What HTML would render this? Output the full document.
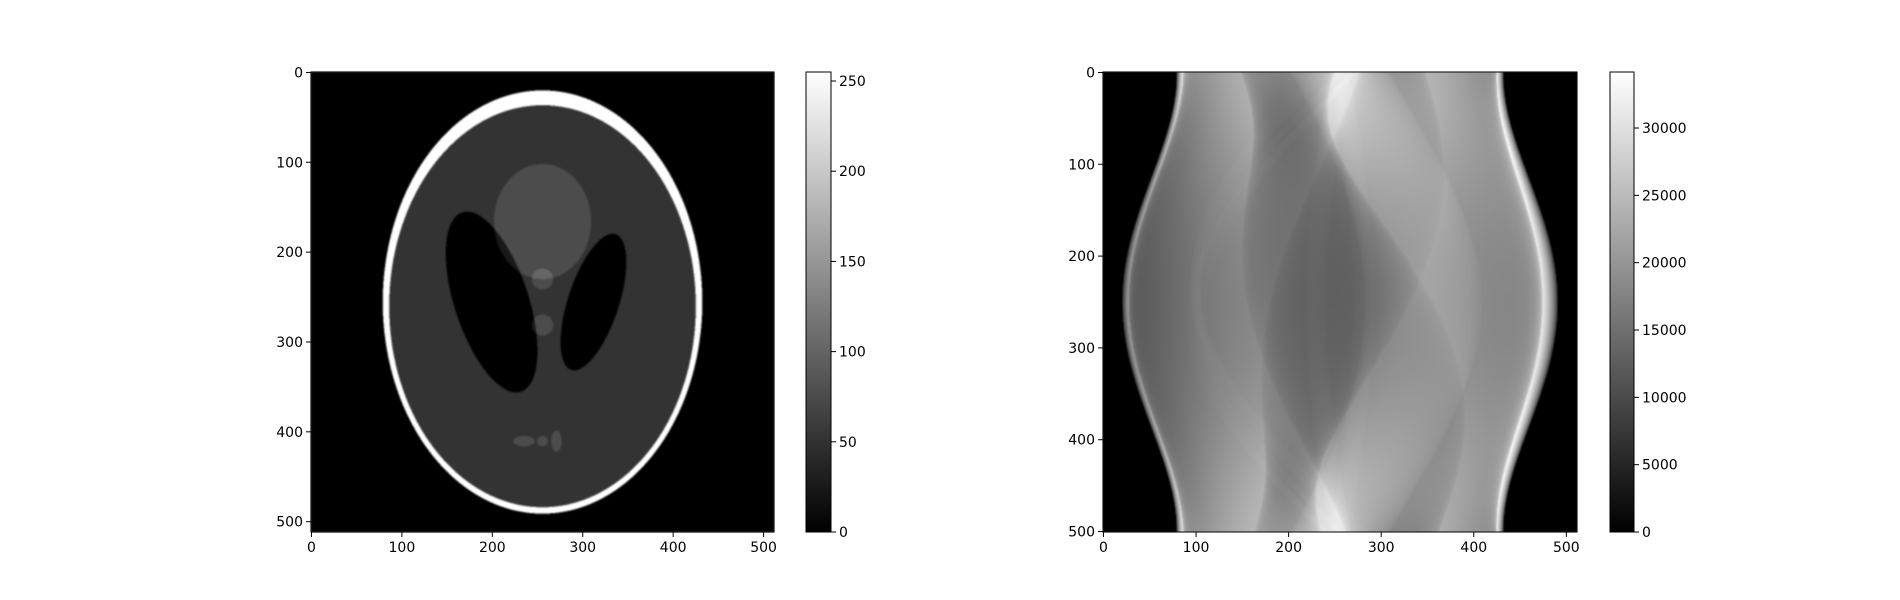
<!DOCTYPE html>
<html><head><meta charset="utf-8"><style>
body{margin:0;background:#fff;width:1900px;height:600px;overflow:hidden;position:relative;font-family:"DejaVu Sans","Liberation Sans",sans-serif}
canvas{position:absolute}
svg{position:absolute;left:0;top:0}
</style></head><body>
<canvas id="phantom" width="512" height="512" style="left:311px;top:72px;width:463px;height:460px"></canvas>
<canvas id="sino" width="512" height="501" style="left:1103px;top:72px;width:474px;height:460px"></canvas>
<svg id="ov" width="1900" height="600">
<defs><linearGradient id="gray" x1="0" y1="1" x2="0" y2="0"><stop offset="0" stop-color="#000"/><stop offset="1" stop-color="#fff"/></linearGradient></defs>
</svg>
<script>
// Shepp-Logan ellipse parameters
const E_x=[0,0,0.22,-0.22,0,0,0,-0.08,0,0.06];
const E_y=[0,-0.0184,0,0,0.35,0.1,-0.1,-0.605,-0.605,-0.605];
const E_a=[0.69,0.6624,0.11,0.16,0.21,0.046,0.046,0.046,0.023,0.023];
const E_b=[0.92,0.874,0.31,0.41,0.25,0.046,0.046,0.023,0.023,0.046];
const E_phi=[0,0,-18,18,0,0,0,0,0,0];
const E_rho=[1,-0.8,-0.2,-0.2,0.1,0.1,0.1,0.1,0.1,0.1];
const leftTicks=[0,100,200,300,400,500];
const sinoYTicks=[0,100,200,300,400,500];
const cbLeftTicks=[0,50,100,150,200,250];
const cbRightTicks=[0,5000,10000,15000,20000,25000,30000];
const sinoTargetMax=[34160];
const NS=512, NA=501;

function phantomVal(x,y){let v=0;for(let k=0;k<E_x.length;k++){const p=E_phi[k]*Math.PI/180,dx=x-E_x[k],dy=y-E_y[k];const u=dx*Math.cos(p)+dy*Math.sin(p),w=-dx*Math.sin(p)+dy*Math.cos(p);if((u/E_a[k])**2+(w/E_b[k])**2<=1)v+=E_rho[k];}return Math.max(0,Math.min(1,v));}
(function(){const c=document.getElementById('phantom'),ctx=c.getContext('2d'),img=ctx.createImageData(NS,NS);
for(let r=0;r<NS;r++)for(let q=0;q<NS;q++){let s=0;for(const oy of [0.25,0.75])for(const ox of [0.25,0.75]){s+=phantomVal((q+ox-256)/256,(256-(r+oy))/256);}
const g=Math.round(s/4*255),i=(r*NS+q)*4;img.data[i]=img.data[i+1]=img.data[i+2]=g;img.data[i+3]=255;}
ctx.putImageData(img,0,0);c.style.filter='blur(0.9px)';})();
let sinoMax=sinoTargetMax[0];
(function(){const c=document.getElementById('sino'),ctx=c.getContext('2d'),img=ctx.createImageData(NS,NA);const vals=new Float32Array(NS*NA);let rawMax=0;
for(let r=0;r<NA;r++){const th=r*Math.PI/NA,ct=Math.cos(th),st=Math.sin(th);
for(let q=0;q<NS;q++){const t=(q+0.5-256)/256;let p=0;
for(let k=0;k<E_x.length;k++){const ph=E_phi[k]*Math.PI/180,d=th-ph;const s2=E_a[k]**2*Math.cos(d)**2+E_b[k]**2*Math.sin(d)**2;const tau=t-(E_x[k]*ct+E_y[k]*st);if(tau*tau<=s2)p+=2*E_rho[k]*E_a[k]*E_b[k]*Math.sqrt(s2-tau*tau)/s2;}
const v=Math.max(0,p);vals[r*NS+q]=v;if(v>rawMax)rawMax=v;}}
for(let i=0;i<NS*NA;i++){const g=Math.round(vals[i]/rawMax*255);img.data[i*4]=img.data[i*4+1]=img.data[i*4+2]=g;img.data[i*4+3]=255;}
ctx.putImageData(img,0,0);c.style.filter='blur(0.6px)';})();

const svg=document.getElementById('ov'),NSV='http://www.w3.org/2000/svg';
function el(t,a,p){const e=document.createElementNS(NSV,t);for(const k in a)e.setAttribute(k,a[k]);(p||svg).appendChild(e);return e;}
function frame(x,y,w,h,name){const r=el('rect',{x:x,y:y,width:w,height:h,fill:'none',stroke:'#000','stroke-width':1});}
function xTicks(L,W,n,ticks,B,name){ticks.forEach(v=>{const x=L+(v+0.5)/n*W;el('line',{x1:x,y1:B,x2:x,y2:B+5,stroke:'#000'});const t=el('text',{x:x,y:B+20,'text-anchor':'middle','font-size':14});t.textContent=v;});}
function yTicks(L,T,H,n,ticks,name){ticks.forEach(v=>{const y=T+(v+0.5)/n*H;el('line',{x1:L,y1:y,x2:L-5,y2:y,stroke:'#000'});const t=el('text',{x:L-8,y:y+5,'text-anchor':'end','font-size':14});t.textContent=v;});}
function cbar(L,T,W,H,max,ticks,name){const r=el('rect',{x:L,y:T,width:W,height:H,fill:'url(#gray)',stroke:'#000'});
ticks.forEach(v=>{const y=T+H-v/max*H;el('line',{x1:L+W,y1:y,x2:L+W+5,y2:y,stroke:'#000'});const t=el('text',{x:L+W+8,y:y+5,'font-size':14});t.textContent=v;});}
frame(311,72,463,460,'phantom-axes');
xTicks(311,463,512,leftTicks,532,'phantom-x-tick');
yTicks(311,72,460,512,leftTicks,'phantom-y-tick');
cbar(806,72,25,460,255,cbLeftTicks,'phantom-colorbar');
frame(1103,72,474,460,'sinogram-axes');
xTicks(1103,474,512,leftTicks,532,'sinogram-x-tick');
yTicks(1103,72,460,501,sinoYTicks,'sinogram-y-tick');
cbar(1610,72,24,460,sinoMax,cbRightTicks,'sinogram-colorbar');
</script>
</body></html>
